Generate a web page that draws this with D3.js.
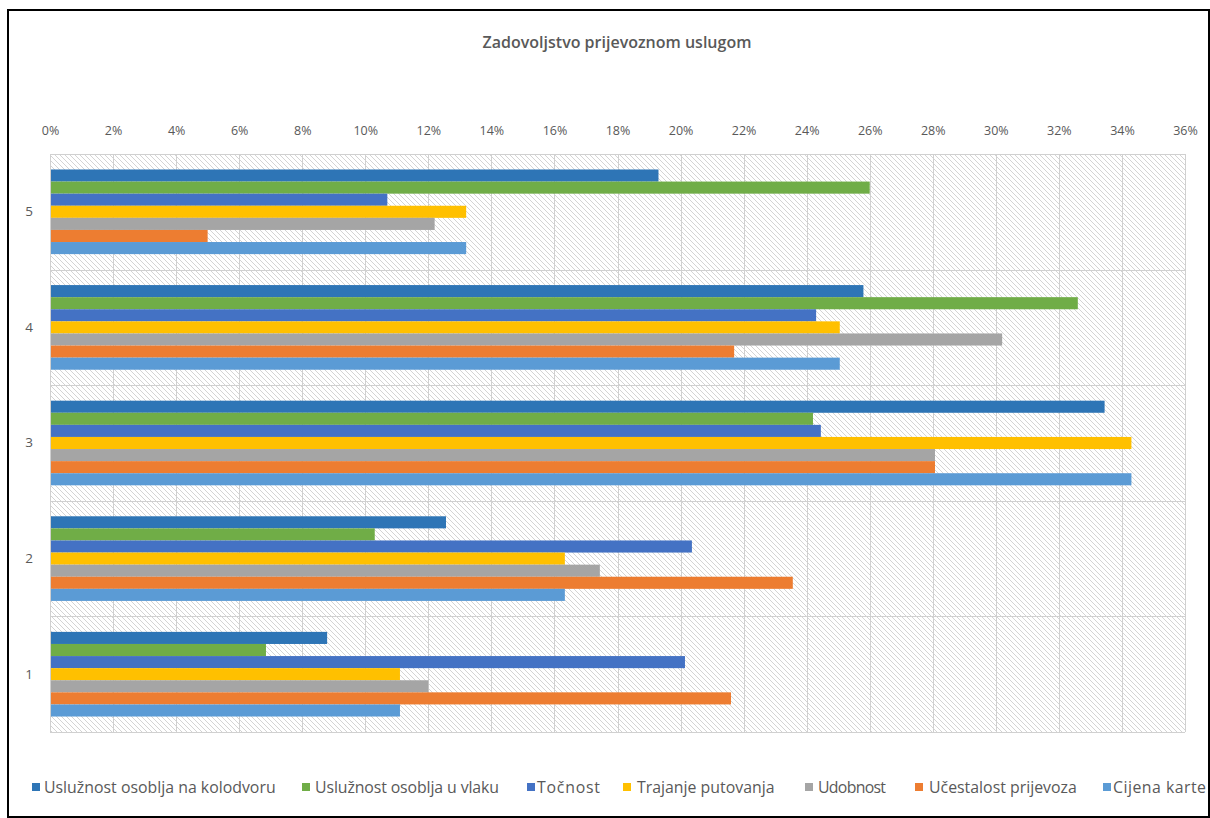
<!DOCTYPE html>
<html><head><meta charset="utf-8">
<script src="https://cdn.jsdelivr.net/npm/d3@7"></script>
<style>body{margin:0;background:#fff}svg{display:block}</style>
</head><body>
<svg id="c" width="1210" height="818"></svg>
<script>
const categories = ["5","4","3","2","1"];
const seriesNames = ["Uslužnost osoblja na kolodvoru","Uslužnost osoblja u vlaku","Točnost","Trajanje putovanja","Udobnost","Učestalost prijevoza","Cijena karte"];
const seriesColors = ["#2E75B6","#70AD47","#4472C4","#FFC000","#A5A5A5","#ED7D31","#5B9BD5"];
// values in %, per category (5..1), per series in the order above
const v5 = [19.3, 26.0, 10.7, 13.2, 12.2, 5.0, 13.2];
const v4 = [25.8, 32.6, 24.3, 25.05, 30.2, 21.7, 25.05];
const v3 = [33.45, 24.2, 24.45, 34.3, 28.07, 28.07, 34.3];
const v2 = [12.56, 10.3, 20.36, 16.33, 17.44, 23.56, 16.33];
const v1 = [8.79, 6.85, 20.14, 11.1, 12.0, 21.6, 11.1];
const tickValues = [0,2,4,6,8,10,12,14,16,18,20,22,24,26,28,30,32,34,36];
const title = "Zadovoljstvo prijevoznom uslugom";

(function(){
const values = {"5":v5,"4":v4,"3":v3,"2":v2,"1":v1};
const svg = d3.select("#c");
const pL = 50, pR = 1185, pT = 154, pB = 732;
const FONT = "'Open Sans', 'Liberation Sans', sans-serif";
const grey = "#595959";

// frame
svg.append("rect").attr("x",8).attr("y",10).attr("width",1201).attr("height",807)
  .attr("fill","#fff").attr("stroke","#000").attr("stroke-width",2);

const x = d3.scaleLinear().domain([0,36]).range([pL,pR]);
const y = d3.scaleBand().domain(categories).range([pT,pB]).paddingInner(0).paddingOuter(0);
const ys = d3.scaleBand().domain(seriesNames).range([0,y.bandwidth()]).paddingInner(0).paddingOuter(1.28);

// hatch pattern
const defs = svg.append("defs");
const pat = defs.append("pattern").attr("id","hatch").attr("patternUnits","userSpaceOnUse")
  .attr("width",5).attr("height",5);
pat.append("rect").attr("width",5).attr("height",5).attr("fill","#fff");
pat.append("path").attr("d","M-1,-1 L6,6 M-1,4 L1,6 M4,-1 L6,1").attr("stroke","#d4d4d4").attr("stroke-width",1);

svg.append("rect").attr("x",pL).attr("y",pT).attr("width",pR-pL).attr("height",pB-pT)
  .attr("fill","url(#hatch)");

// gridlines
svg.append("g").selectAll("line").data(tickValues).join("line")
  .attr("x1",d=>Math.round(x(d))+0.5).attr("x2",d=>Math.round(x(d))+0.5).attr("y1",pT).attr("y2",pB)
  .attr("stroke","#d0d0d0").attr("stroke-width",1);
const bounds = categories.map(c=>y(c)).concat([pB]);
svg.append("g").selectAll("line").data(bounds).join("line")
  .attr("x1",pL).attr("x2",pR).attr("y1",d=>Math.round(d)+0.5).attr("y2",d=>Math.round(d)+0.5)
  .attr("stroke","#d0d0d0").attr("stroke-width",1);

// bars
const g = svg.append("g");
categories.forEach(c=>{
  g.append("g").selectAll("rect").data(values[c]).join("rect")
    .attr("x",x(0)+1)
    .attr("y",(d,i)=>y(c)+ys(seriesNames[i]))
    .attr("width",d=>x(d)-x(0)-1)
    .attr("height",ys.bandwidth())
    .attr("fill",(d,i)=>seriesColors[i]);
});

// top axis
const axis = d3.axisTop(x).tickValues(tickValues).tickFormat(d=>d+"%").tickSize(0);
const ag = svg.append("g").attr("transform",`translate(0,${pT-23})`).call(axis);
ag.select(".domain").remove();
ag.selectAll("text").attr("fill",grey).attr("y",0).attr("dy","0.35em").style("font-family",FONT).style("font-size","12.5px");

// category axis
const cg = svg.append("g").attr("transform",`translate(${pL-17},0)`).call(d3.axisLeft(y).tickSize(0));
cg.select(".domain").remove();
cg.selectAll("text").attr("fill",grey).style("font-family",FONT).style("font-size","13.5px").attr("x",0);

// title
svg.append("text").attr("x",617).attr("y",48).attr("text-anchor","middle")
  .attr("fill",grey).style("font-family",FONT).style("font-size","16px").style("font-weight","600")
  .text(title);

// legend
const legendMarkerX = [32,302,527,623,805,915,1103];
const legendTextX = [44,315,537,637,818,929,1113];
const legendTextEnd = [274,499,600,776,886,1076,1206];
const lg = svg.append("g");
const texts = [];
seriesNames.forEach((s,i)=>{
  lg.append("rect").attr("x",legendMarkerX[i]).attr("y",783).attr("width",8).attr("height",8).attr("fill",seriesColors[i]);
  const t = lg.append("text").attr("x",legendTextX[i]).attr("y",787).attr("dy","0.35em")
    .attr("fill",grey).style("font-family",FONT).style("font-size","13px")
    .text(s);
  texts.push(t);
});
let mSum = 0, tSum = 0;
texts.forEach((t,i)=>{ mSum += t.node().getComputedTextLength(); tSum += legendTextEnd[i]-legendTextX[i]; });
const fs = Math.min(16, 13 * tSum / mSum);
texts.forEach((t,i)=>{
  t.style("font-size", fs+"px");
  const w = t.node().getComputedTextLength();
  const target = legendTextEnd[i]-legendTextX[i];
  if (Math.abs(w-target) > 2) t.attr("textLength", target).attr("lengthAdjust","spacing");
});
})();
</script>
</body></html>
